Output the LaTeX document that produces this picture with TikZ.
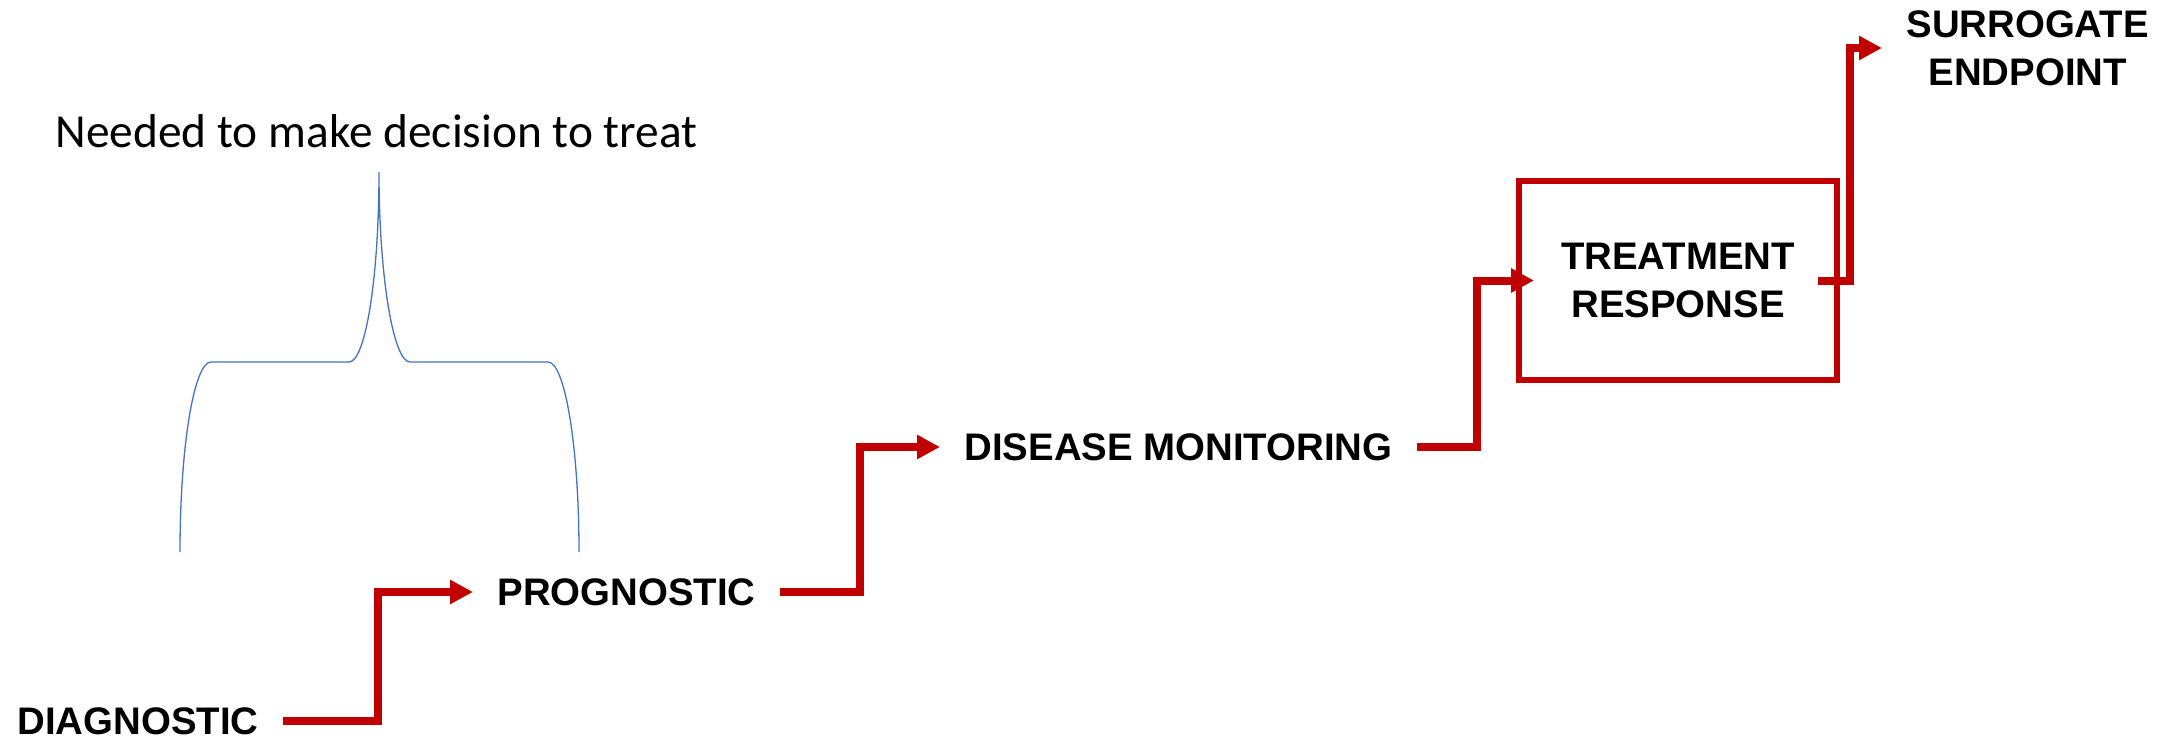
\documentclass[tikz,border=0pt]{standalone}
\usepackage{fontspec}
\usetikzlibrary{arrows.meta,calc}
\newfontfamily\labfont{Liberation Sans}
\newfontfamily\notefont{Carlito}
\definecolor{redc}{HTML}{C00000}
\definecolor{bluec}{HTML}{4472C4}
\begin{document}
\begin{tikzpicture}[x=0.5pt,y=-0.5pt,
  lab/.style={font={\labfont\bfseries\fontsize{19.2}{24}\selectfont}, inner xsep=12pt, inner ysep=0pt, align=center, text=black},
  redarrow/.style={draw=redc, line width=4pt, line join=miter, line cap=butt, -{Triangle[length=11.5pt,width=11.5pt]}},
  bracestyle/.style={draw=bluec, line width=0.65pt},
  redbox/.style={draw=redc, line width=3.3pt, minimum width=159pt, minimum height=99.5pt, outer sep=0pt, inner sep=0pt}
]
\useasboundingbox (0,0) rectangle (2180,739);

% text nodes
\node[lab, anchor=east] (diag) at (283,721) {DIAGNOSTIC};
\node[lab, anchor=west] (prog) at (473,592) {PROGNOSTIC};
\node[lab, anchor=west] (dis) at (940,447) {DISEASE MONITORING};
\node[lab, redbox] (box) at (1678,280.5) {TREATMENT\\RESPONSE};
\node[lab, anchor=west] (sur) at (1882,48) {SURROGATE\\ENDPOINT};
\node[font={\notefont\fontsize{23.7}{28}\selectfont}, anchor=base, inner sep=0pt] (note) at (376.5,147) {Needed to make decision to treat};

% turning points of connectors
\coordinate (v1) at (378,0);
\coordinate (v2) at (860,0);
\coordinate (v3) at (1477,0);
\coordinate (v4) at (1850,0);
\coordinate (boxin) at ($(box.west)+(15,0)$);
\coordinate (boxout) at ($(box.east)+(-19,0)$);

% connectors
\draw[redarrow] (diag.east) -- (diag.east -| v1) |- (prog.west);
\draw[redarrow] (prog.east) -- (prog.east -| v2) |- (dis.west);
\draw[redarrow] (dis.east) -- (dis.east -| v3) |- (boxin);
\draw[redarrow] (boxout) -- (boxout -| v4) |- (sur.west);

% brace
\draw[bracestyle] (180,552) .. controls (180,447) and (194,362) .. (211,362)
  -- (349,362) .. controls (365.6,362) and (379,277) .. (379,172)
  .. controls (379,277) and (393.4,362) .. (410,362)
  -- (548,362) .. controls (565,362) and (579,447) .. (579,552);
\end{tikzpicture}
\end{document}
